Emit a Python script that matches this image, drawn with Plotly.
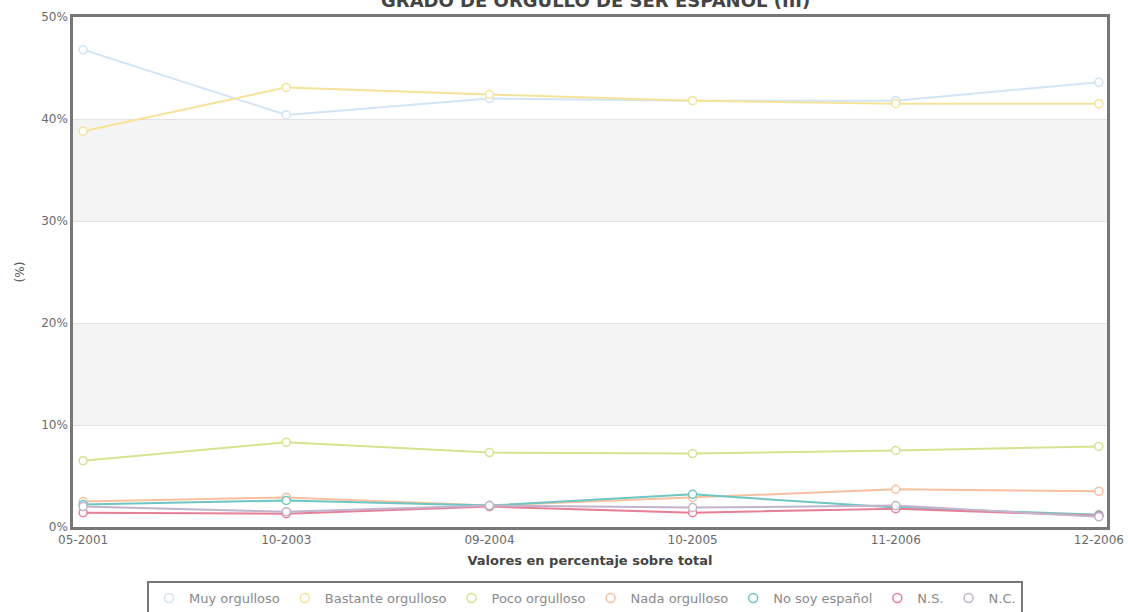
import plotly.graph_objects as go

categories = ["05-2001", "10-2003", "09-2004", "10-2005", "11-2006", "12-2006"]

muy_orgulloso = [46.8, 40.4, 42.0, 41.8, 41.8, 43.6]
bastante_orgulloso = [38.8, 43.1, 42.4, 41.8, 41.5, 41.5]
poco_orgulloso = [6.5, 8.3, 7.3, 7.2, 7.5, 7.9]
nada_orgulloso = [2.5, 2.9, 2.1, 2.9, 3.7, 3.5]
no_soy_espanol = [2.2, 2.6, 2.1, 3.2, 1.9, 1.2]
ns = [1.4, 1.3, 2.0, 1.4, 1.8, 1.1]
nc = [2.0, 1.5, 2.1, 1.9, 2.1, 1.0]

series_names = ["Muy orgulloso", "Bastante orgulloso", "Poco orgulloso", "Nada orgulloso",
                "No soy español", "N.S.", "N.C."]
series_values = [muy_orgulloso, bastante_orgulloso, poco_orgulloso, nada_orgulloso,
                 no_soy_espanol, ns, nc]
colors = ["#d3e4f4", "#f6e39a", "#d8e28e", "#f9c0a0", "#6cc6c2", "#e67f98", "#c2b4cc"]

title_text = "GRADO DE ORGULLO DE SER ESPAÑOL (III)"
y_ticks = [0, 10, 20, 30, 40, 50]
y_labels = [f"{v}%" for v in y_ticks]

fig = go.Figure()

for name, vals, col in zip(series_names, series_values, colors):
    fig.add_trace(go.Scatter(
        x=categories, y=vals, mode="lines+markers", name=name,
        line=dict(color=col, width=2),
        marker=dict(symbol="circle", size=8, color="white", line=dict(color=col, width=1.5)),
        showlegend=False, cliponaxis=False,
    ))

for name, col in zip(series_names, colors):
    fig.add_trace(go.Scatter(
        x=[None], y=[None], mode="markers", name=name,
        marker=dict(symbol="circle", size=9, color="white", line=dict(color=col, width=1.5)),
        showlegend=True,
    ))

# shaded bands
for y0, y1 in [(10, 20), (30, 40)]:
    fig.add_shape(type="rect", xref="paper", yref="y", x0=0, x1=1, y0=y0, y1=y1,
                  fillcolor="#f4f4f4", line=dict(width=0), layer="below")

fig.update_layout(
    width=1128, height=612,
    margin=dict(l=73, r=21, t=17, b=85, autoexpand=False),
    paper_bgcolor="white", plot_bgcolor="white",
    font=dict(family="DejaVu Sans", size=12, color="#666666"),
    showlegend=True,
    legend=dict(
        orientation="h", x=0.0716, xanchor="left", y=-0.106, yanchor="top",
        bordercolor="#777777", borderwidth=2, bgcolor="white",
        font=dict(family="DejaVu Sans", size=13, color="#8a8a8a"),
        itemwidth=30,
    ),
    annotations=[
        dict(text=title_text, xref="paper", yref="paper", x=0.505, y=1.0, yshift=17,
             xanchor="center", yanchor="middle", showarrow=False,
             font=dict(family="DejaVu Sans", size=18, color="#444444", weight="bold")),
    ],
)

fig.update_xaxes(
    type="category", range=[-0.05, 5.04],
    showline=True, mirror=True, linecolor="#777777", linewidth=2.5,
    showgrid=False, ticks="", tickfont=dict(size=12, color="#6a6a6a"),
    title=dict(text="Valores en percentaje sobre total", standoff=10,
               font=dict(family="DejaVu Sans", size=13, color="#444444", weight="bold")),
)
fig.update_yaxes(
    range=[0, 50], tickvals=y_ticks, ticktext=y_labels,
    showline=True, mirror=True, linecolor="#777777", linewidth=2.5,
    showgrid=True, gridcolor="#e2e2e2", gridwidth=1, zeroline=False,
    ticks="", tickfont=dict(size=12, color="#6a6a6a"),
    title=dict(text="(%)", standoff=14, font=dict(size=12, color="#555555")),
)

fig.write_html("out.html")
